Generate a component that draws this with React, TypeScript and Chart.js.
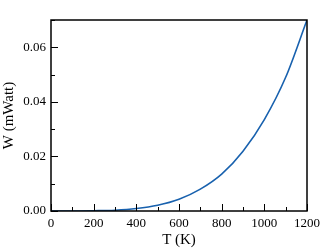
import React, { useEffect, useRef } from "react";
import { Chart, registerables } from "chart.js";

Chart.register(...registerables);

const temperatures = [0, 100, 200, 300, 400, 500, 600, 700, 800, 900, 1000, 1100, 1200];
const power = [0, 0.0, 0.0001, 0.0003, 0.0009, 0.0021, 0.0043, 0.008, 0.0135, 0.0219, 0.0335, 0.049, 0.07];
const xMinorTicks = [0, 100, 200, 300, 400, 500, 600, 700, 800, 900, 1000, 1100, 1200];
const yMinorTicks = [0, 0.01, 0.02, 0.03, 0.04, 0.05, 0.06, 0.07];

const SERIF = '"Liberation Serif"';

const framePlugin = {
  id: "frameTicks",
  afterDraw(chart: any) {
    const { ctx, chartArea } = chart;
    const xs = chart.scales.x;
    const ys = chart.scales.y;
    ctx.save();
    ctx.strokeStyle = "#000";
    ctx.lineWidth = 1;
    ctx.beginPath();
    xMinorTicks.forEach((v) => {
      const px = Math.round(xs.getPixelForValue(v)) + 0.5;
      const len = v % 200 === 0 ? 7 : 4;
      ctx.moveTo(px, chartArea.bottom);
      ctx.lineTo(px, chartArea.bottom - len);
    });
    yMinorTicks.forEach((v, i) => {
      const py = Math.round(ys.getPixelForValue(v)) + 0.5;
      const len = i % 2 === 0 ? 7 : 4;
      ctx.moveTo(chartArea.left, py);
      ctx.lineTo(chartArea.left + len, py);
    });
    ctx.stroke();
    ctx.lineWidth = 1.5;
    ctx.strokeRect(chartArea.left, chartArea.top, chartArea.right - chartArea.left, chartArea.bottom - chartArea.top);
    ctx.restore();
  },
};

export default function App() {
  const ref = useRef<HTMLCanvasElement>(null);
  useEffect(() => {
    document.body.style.margin = "0";
    const chart = new Chart(ref.current!, {
      type: "line",
      data: {
        datasets: [
          {
            data: temperatures.map((t, i) => ({ x: t, y: power[i] })),
            borderColor: "#1861ae",
            borderWidth: 1.6,
            pointRadius: 0,
            fill: false,
            cubicInterpolationMode: "monotone",
          },
        ],
      },
      options: {
        animation: false,
        responsive: false,
        layout: { padding: { left: 0, top: 20, right: 20, bottom: 0 } },
        plugins: { legend: { display: false }, tooltip: { enabled: false } },
        scales: {
          x: {
            type: "linear",
            min: 0,
            max: 1200,
            grid: { display: false, drawTicks: false },
            border: { display: false },
            ticks: {
              stepSize: 200,
              color: "#000",
              padding: 5,
              maxRotation: 0,
              font: { family: SERIF, size: 13 },
              callback: (v: any) => String(v),
            },
            title: {
              display: true,
              text: "T (K)",
              color: "#000",
              font: { family: SERIF, size: 15 },
              padding: { top: 0, bottom: 2 },
            },
            afterFit: (s: any) => {
              s.height = 40;
            },
          },
          y: {
            type: "linear",
            min: 0,
            max: 0.07,
            grid: { display: false, drawTicks: false },
            border: { display: false },
            ticks: {
              stepSize: 0.02,
              includeBounds: false,
              color: "#000",
              padding: 5,
              font: { family: SERIF, size: 13 },
              callback: (v: any) => Number(v).toFixed(2),
            },
            title: {
              display: true,
              text: "W (mWatt)",
              color: "#000",
              font: { family: SERIF, size: 15 },
              padding: 0,
            },
            afterFit: (s: any) => {
              s.width = 51;
            },
          },
        },
      },
      plugins: [framePlugin],
    });
    return () => chart.destroy();
  }, []);
  return (
    <div style={{ position: "fixed", left: 0, top: 0, width: 327, height: 251, background: "#fff" }}>
      <canvas ref={ref} width={327} height={251} />
    </div>
  );
}
